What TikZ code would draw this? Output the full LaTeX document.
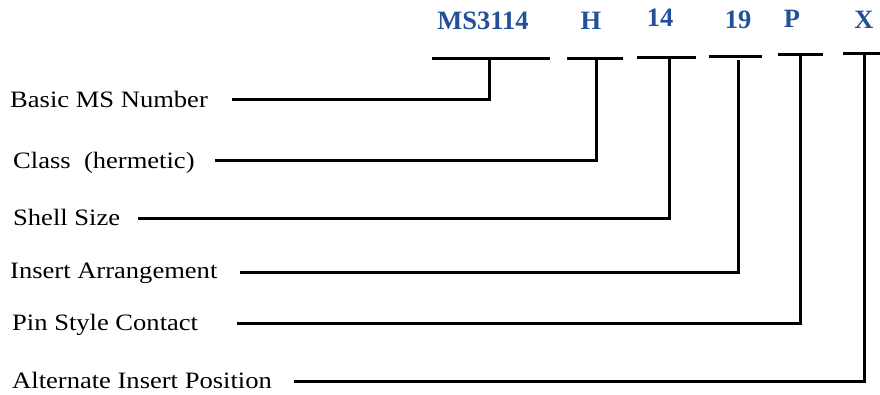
\documentclass[tikz,border=0pt]{standalone}
\usepackage{fontspec}
\setmainfont{Liberation Serif}
\definecolor{codeblue}{HTML}{23509A}
\begin{document}
\begin{tikzpicture}[x=1pt,y=-1pt,
  lbl/.style={anchor=base west,inner sep=0pt,font=\fontsize{23.5}{26}\selectfont},
  code/.style={anchor=base,inner sep=0pt,text=codeblue,font=\fontsize{26.5}{30}\selectfont\bfseries},
  wire/.style={line width=3pt,line cap=butt,line join=miter}]
\useasboundingbox (0,0) rectangle (880,394);
% top code letters
\node[code] (t1) at (483,29) {MS3114};
\node[code] (t2) at (591,29) {H};
\node[code] (t3) at (660,26) {14};
\node[code] (t4) at (738,28) {19};
\node[code] (t5) at (792,27) {P};
\node[code] (t6) at (864,28) {X};
% labels
\node[lbl] (l1) at (10,107) {\scalebox{1.13}[1]{Basic MS Number}};
\node[lbl] (l2) at (13,168) {\scalebox{1.13}[1]{Class\ \ (hermetic)}};
\node[lbl] (l3) at (13,225) {\scalebox{1.13}[1]{Shell Size}};
\node[lbl] (l4) at (10,278) {\scalebox{1.13}[1]{Insert Arrangement}};
\node[lbl] (l5) at (12,330) {\scalebox{1.13}[1]{Pin Style Contact}};
\node[lbl] (l6) at (12,388) {\scalebox{1.13}[1]{Alternate Insert Position}};
% bars
\coordinate (a1) at (432,58); \coordinate (c1) at (550,58); \coordinate (j1) at (489,58);
\coordinate (a2) at (567,58); \coordinate (c2) at (623,58); \coordinate (j2) at (596,58);
\coordinate (a3) at (637,57); \coordinate (c3) at (696,57); \coordinate (j3) at (669,57);
\coordinate (a4) at (709,56); \coordinate (c4) at (762,56); \coordinate (j4) at (738,60);
\coordinate (a5) at (778,54); \coordinate (c5) at (823,54); \coordinate (j5) at (800,54);
\coordinate (a6) at (843,53); \coordinate (c6) at (880,53); \coordinate (j6) at (864,53);
\foreach \i in {1,...,6} {\draw[wire] (a\i) -- (c\i);}
% line starts
\coordinate (s1) at (232,99);
\coordinate (s2) at (215,160);
\coordinate (s3) at (138,218);
\coordinate (s4) at (240,272);
\coordinate (s5) at (237,323);
\coordinate (s6) at (294,381);
\foreach \i in {1,...,6} {\draw[wire] (s\i) -| (j\i);}
\end{tikzpicture}
\end{document}
